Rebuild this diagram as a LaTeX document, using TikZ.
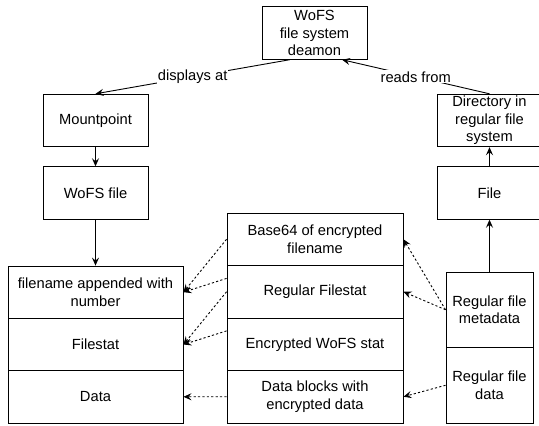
\documentclass[tikz,border=0pt]{standalone}
\usepackage{fontspec}
\setmainfont{Liberation Sans}
\usetikzlibrary{arrows.meta,calc}
\begin{document}
\begin{tikzpicture}[x=1pt,y=-1pt,
  txt/.style={font=\fontsize{14.7}{17.6}\selectfont},
  box/.style={draw, line width=0.9pt, inner sep=0pt, align=center, txt},
  sbox/.style={box, minimum width=105pt, minimum height=52.5pt},
  lrow/.style={box, minimum width=175pt, minimum height=52.33pt},
  mrow/.style={box, minimum width=176pt, minimum height=52.5pt},
  rrow/.style={box, minimum width=87pt, minimum height=75.5pt},
  conn/.style={line width=0.9pt, -{Stealth[length=8pt,width=7pt,inset=3pt]}},
  dconn/.style={conn, dash pattern=on 2.2pt off 2.2pt},
  lbl/.style={fill=white, inner sep=1pt, txt}]
\useasboundingbox (0,0) rectangle (539,426);
\clip (0,0) rectangle (539,426);
% top and side boxes
\node[sbox] (daemon) at (314.5,33) {WoFS\\file system\\deamon};
\node[sbox] (mount) at (95.5,120.5) {Mountpoint};
\node[sbox] (wofs) at (95.5,193) {WoFS file};
\node[sbox] (dir) at (489.5,120.5) {Directory in\\regular file\\system};
\node[sbox] (file) at (489.5,193) {File};
% left stack
\node[lrow] (l1) at (95.5,292.2) {filename appended with\\number};
\node[lrow] (l2) at (95.5,344.5) {Filestat};
\node[lrow] (l3) at (95.5,396.8) {Data};
% middle stack
\node[mrow] (m1) at (315,239.25) {Base64 of encrypted\\filename};
\node[mrow] (m2) at (315,291.75) {Regular Filestat};
\node[mrow] (m3) at (315,344.25) {Encrypted WoFS stat};
\node[mrow] (m4) at (315,396.75) {Data blocks with\\encrypted data};
% right stack
\node[rrow] (r1) at (489.5,309.75) {Regular file\\metadata};
\node[rrow] (r2) at (489.5,385.25) {Regular file\\data};
% solid connectors
\draw[conn] ($(daemon.south west)!0.267!(daemon.south east)$) -- node[lbl]{displays at} (mount.north);
\draw[conn] (dir.north) -- node[lbl]{reads from} ($(daemon.south west)!0.76!(daemon.south east)$);
\draw[conn] (mount.south) -- (wofs.north);
\draw[conn] (wofs.south) -- (l1.north);
\draw[conn] (r1.north) -- (file.south);
\draw[conn] (file.north) -- (dir.south);
% dotted connectors
\draw[dconn] (m1.west) -- (l1.east);
\draw[dconn] ($(m2.north west)!0.25!(m2.south west)$) -- (l1.east);
\draw[dconn] (m2.west) -- (l2.east);
\draw[dconn] ($(m3.north west)!0.25!(m3.south west)$) -- (l2.east);
\draw[dconn] (m4.west) -- (l3.east);
\draw[dconn] (r1.west) -- (m1.east);
\draw[dconn] (r1.west) -- (m2.east);
\draw[dconn] (r2.west) -- (m4.east);
\end{tikzpicture}
\end{document}
